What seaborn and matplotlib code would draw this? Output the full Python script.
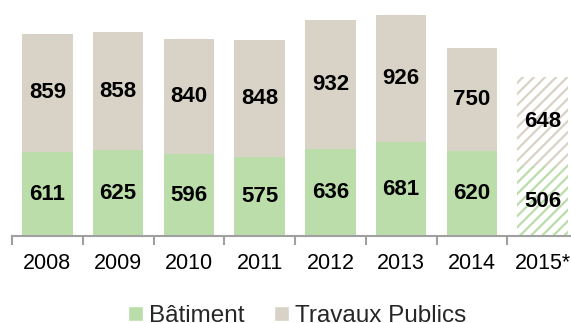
import matplotlib
matplotlib.use("Agg")
import matplotlib.pyplot as plt
import seaborn as sns
import pandas as pd
from matplotlib.patches import Patch

years = ["2008", "2009", "2010", "2011", "2012", "2013", "2014", "2015*"]
batiment = [611, 625, 596, 575, 636, 681, 620, 506]
travaux_publics = [859, 858, 840, 848, 932, 926, 750, 648]

GREEN = "#BBDDAA"
BEIGE = "#D9D3C7"

sns.set_theme(style="white")
plt.rcParams["font.family"] = ["Liberation Sans", "DejaVu Sans"]
plt.rcParams["hatch.linewidth"] = 1.6

df = pd.DataFrame({
    "annee": years,
    "batiment": batiment,
    "total": [b + t for b, t in zip(batiment, travaux_publics)],
})

fig = plt.figure(figsize=(5.71, 3.23), dpi=100)
ax = fig.add_axes([12 / 571, 87 / 323, 566 / 571, 236 / 323])

sns.barplot(data=df, x="annee", y="total", color=BEIGE, saturation=1,
            width=0.714, ax=ax, linewidth=0)
sns.barplot(data=df, x="annee", y="batiment", color=GREEN, saturation=1,
            width=0.714, ax=ax, linewidth=0)

# forecast year drawn as hatched bars on white
n = len(years)
tp_patch = ax.patches[n - 1]
bat_patch = ax.patches[2 * n - 1]
for p, col in ((tp_patch, BEIGE), (bat_patch, GREEN)):
    p.set_facecolor("white")
    p.set_edgecolor(col)
    if hasattr(p, "set_hatchcolor"):
        p.set_hatchcolor(col)
    p.set_hatch("///")
    p.set_linewidth(0)

# value labels
for i in range(n):
    b, t = batiment[i], travaux_publics[i]
    ax.text(i, b / 2, str(b), ha="center", va="center", fontsize=16,
            fontweight="bold", color="black")
    ax.text(i, b + t / 2, str(t), ha="center", va="center", fontsize=16,
            fontweight="bold", color="black")

ax.set_xlim(-0.5, n - 0.5)
ax.set_ylim(0, 1717)
ax.set_xlabel("")
ax.set_ylabel("")
ax.set_yticks([])

for s in ("top", "right", "left"):
    ax.spines[s].set_visible(False)
ax.spines["bottom"].set_color("#A0A0A0")
ax.spines["bottom"].set_linewidth(1.5)

# tick marks at category boundaries, labels at centers
ax.set_xticks([i - 0.5 for i in range(n)])
ax.set_xticklabels([])
ax.tick_params(axis="x", which="major", direction="out", length=6.5,
               width=1.5, color="#A0A0A0", bottom=True)
ax.set_xticks(list(range(n)), minor=True)
ax.set_xticklabels(years, minor=True)
ax.tick_params(axis="x", which="minor", length=0, pad=12, labelsize=15.5,
               labelcolor="black")

handles = [Patch(facecolor=GREEN, label="Bâtiment"),
           Patch(facecolor=BEIGE, label="Travaux Publics")]
fig.legend(handles=handles, loc="center", bbox_to_anchor=(297 / 571, 7 / 323),
           ncol=2, frameon=False, fontsize=17.5, handlelength=0.62,
           handleheight=0.62, handletextpad=0.25, columnspacing=1.23,
           borderaxespad=0, borderpad=0)

fig.savefig("out.png", dpi=100)
